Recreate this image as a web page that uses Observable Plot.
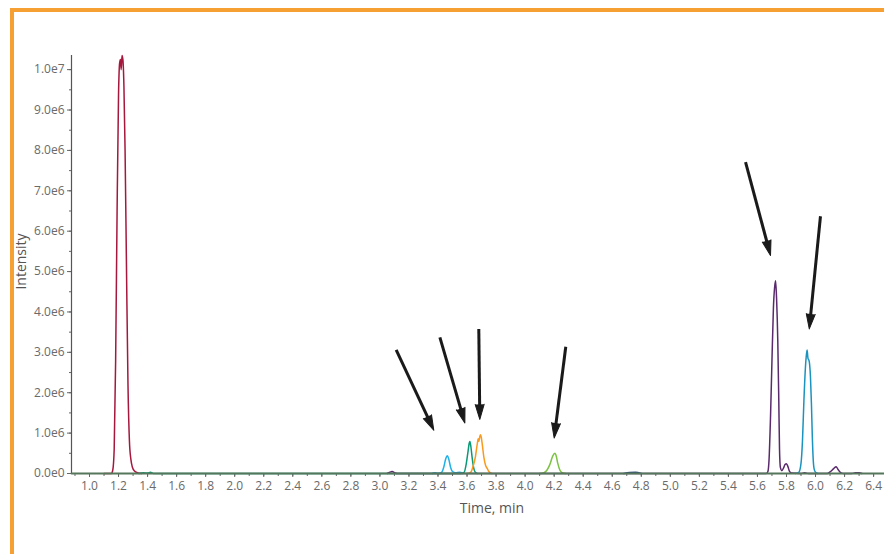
<!DOCTYPE html>
<html><head><meta charset="utf-8">
<script src="https://cdn.jsdelivr.net/npm/d3@7"></script>
<script src="https://cdn.jsdelivr.net/npm/@observablehq/plot@0.6"></script>
<style>
html,body{margin:0;padding:0;background:#fff;}
#wrap{position:relative;width:884px;height:554px;overflow:hidden;}
#frame{position:absolute;left:10px;top:8px;right:-10px;bottom:-10px;border-top:4px solid #f6a033;border-left:4px solid #f6a033;pointer-events:none;}
</style></head><body><div id="wrap"><div id="chart"></div><div id="frame"></div></div>
<script>
// ---- data (time in min, intensity in units of 1e6) ----
const seriesNames = ["Peak A", "Peak B", "Peak C", "Peak D", "Peak E", "Peak F", "Peak G", "Peak H"];
const seriesColors = ["#a6173d", "#1eb0e6", "#0b9a77", "#f99a1c", "#7cc243", "#5a2a6d", "#1a93bf", "#2f4a7a"];

const peakA = [[1.10,0],[1.15,0],[1.16,0.08],[1.17,0.6],[1.18,2.8],[1.19,6.5],[1.20,9.4],[1.207,10.15],[1.213,10.25],[1.218,10.0],[1.224,10.35],[1.23,10.25],[1.237,9.6],[1.245,8.0],[1.255,5.0],[1.265,2.2],[1.275,0.8],[1.285,0.35],[1.295,0.16],[1.31,0.06],[1.33,0.02],[1.36,0]];
const peakB = [[3.36,0],[3.38,0.02],[3.40,0],[3.425,0.03],[3.44,0.16],[3.453,0.36],[3.464,0.44],[3.474,0.36],[3.487,0.15],[3.50,0.05],[3.52,0.02],[3.55,0.03],[3.57,0]];
const peakC = [[1.34,0],[1.37,0.02],[1.40,0.01],[1.42,0.03],[1.44,0],[3.56,0],[3.58,0.03],[3.595,0.25],[3.607,0.55],[3.615,0.75],[3.62,0.79],[3.627,0.65],[3.635,0.4],[3.645,0.15],[3.655,0.04],[3.67,0]];
const peakD = [[3.60,0],[3.625,0.03],[3.64,0.16],[3.658,0.42],[3.67,0.72],[3.677,0.86],[3.682,0.8],[3.688,0.92],[3.693,0.96],[3.698,0.9],[3.705,0.72],[3.716,0.4],[3.728,0.2],[3.74,0.12],[3.75,0.05],[3.77,0]];
const peakE = [[4.10,0],[4.13,0.02],[4.15,0.08],[4.17,0.22],[4.19,0.43],[4.205,0.5],[4.215,0.42],[4.225,0.25],[4.24,0.08],[4.255,0.02],[4.28,0]];
const peakF = [[3.05,0],[3.075,0.04],[3.085,0.05],[3.10,0.02],[3.12,0],[5.66,0],[5.672,0.05],[5.68,0.35],[5.69,1.4],[5.70,2.8],[5.71,4.1],[5.718,4.6],[5.725,4.77],[5.732,4.3],[5.74,3.3],[5.747,1.8],[5.752,0.6],[5.758,0.15],[5.768,0.07],[5.78,0.14],[5.79,0.22],[5.80,0.24],[5.81,0.17],[5.82,0.06],[5.835,0.01],[5.90,0],[5.925,0.02],[5.95,0],[6.08,0],[6.10,0.04],[6.125,0.12],[6.142,0.17],[6.155,0.1],[6.17,0.03],[6.19,0],[6.25,0],[6.275,0.02],[6.30,0.02],[6.32,0]];
const peakG = [[5.86,0],[5.885,0.03],[5.90,0.25],[5.91,0.8],[5.92,1.8],[5.93,2.6],[5.936,2.9],[5.942,3.06],[5.948,2.85],[5.955,2.8],[5.965,2.4],[5.972,1.7],[5.978,0.9],[5.984,0.35],[5.99,0.12],[6.0,0.03],[6.015,0]];
const peakH = [[4.68,0],[4.72,0.025],[4.76,0.03],[4.80,0]];
const seriesPoints = [peakA, peakB, peakC, peakD, peakE, peakF, peakG, peakH];

const baseline = [[0.876,0],[6.475,0]];

// tick labels
const xTicks = [1.0,1.2,1.4,1.6,1.8,2.0,2.2,2.4,2.6,2.8,3.0,3.2,3.4,3.6,3.8,4.0,4.2,4.4,4.6,4.8,5.0,5.2,5.4,5.6,5.8,6.0,6.2,6.4];
const yTicks = [0,1,2,3,4,5,6,7,8,9,10];

// arrow annotations (start -> tip), in data units
const arrowX1 = [3.112, 3.413, 3.681, 4.280, 5.518, 6.034];
const arrowY1 = [3.06, 3.37, 3.58, 3.14, 7.71, 6.37];
const arrowX2 = [3.371, 3.585, 3.688, 4.200, 5.690, 5.957];
const arrowY2 = [1.07, 1.25, 1.34, 0.88, 5.40, 3.58];

// ---- layout ----
const W = 884, H = 554, mL = 71, mR = 0, mT = 55, mB = 81;
const xDomain = [0.876, 6.475], yDomain = [0, 10.35];
const xs = d3.scaleLinear(xDomain, [mL, W - mR]);
const ys = d3.scaleLinear(yDomain, [H - mB, mT]);

const rows = [];
seriesPoints.forEach((pts, i) => pts.forEach(([t, v]) => rows.push({series: seriesNames[i], t, v})));
const baseRows = baseline.map(([t, v]) => ({t, v}));
const arrows = arrowX1.map((_, i) => {
  const dx = xs(arrowX2[i]) - xs(arrowX1[i]);
  const dy = ys(arrowY2[i]) - ys(arrowY1[i]);
  return {x1: arrowX1[i], y1: arrowY1[i], x2: arrowX2[i], y2: arrowY2[i], angle: Math.atan2(dx, -dy) * 180 / Math.PI};
});
const xMinor = d3.range(9, 65).map(i => i / 10);
const yMinor = d3.range(0, 21).map(i => i / 2);
const fmt = d => (d * 1e6).toExponential(1).replace("e+", "e");

const plot = Plot.plot({
  width: W, height: H, marginLeft: mL, marginRight: mR, marginTop: mT, marginBottom: mB,
  style: {fontFamily: "'Open Sans', sans-serif", fontSize: "12px", color: "#666", background: "transparent", overflow: "visible"},
  x: {domain: xDomain},
  y: {domain: yDomain},
  color: {type: "ordinal", domain: seriesNames, range: seriesColors},
  marks: [
    Plot.axisY({ticks: yMinor, tickSize: 2, tickFormat: () => "", label: null, stroke: "#666"}),
    Plot.axisY({ticks: yTicks, tickSize: 4, tickPadding: 3, tickFormat: fmt, label: null, stroke: "#666", fill: "#6a6a6a"}),
    Plot.axisX({ticks: xMinor, tickSize: 3, tickFormat: () => "", label: null, stroke: "#666"}),
    Plot.axisX({ticks: xTicks, tickSize: 4, tickPadding: 4, tickFormat: d => d.toFixed(1), label: null, stroke: "#666", fill: "#6a6a6a"}),
    Plot.ruleX([xDomain[0]], {stroke: "#555", strokeWidth: 1.2}),
    Plot.line(rows, {x: "t", y: "v", z: "series", stroke: "series", curve: "monotone-x", strokeWidth: 1.5}),
    Plot.line(baseRows, {x: "t", y: "v", stroke: "#55775b", strokeWidth: 2}),
    Plot.arrow(arrows, {x1: "x1", y1: "y1", x2: "x2", y2: "y2", insetEnd: 10, headLength: 0, stroke: "#1a1a1a", strokeWidth: 3, strokeLinecap: "butt"}),
    Plot.vector(arrows, {x: "x2", y: "y2", rotate: "angle", length: 15, r: 4.5, shape: "spike", anchor: "end", fill: "#1a1a1a", stroke: "#1a1a1a", strokeWidth: 1}),
    Plot.text(["Time, min"], {text: d => d, frameAnchor: "bottom", textAnchor: "middle", lineAnchor: "middle", dx: 14, dy: 35, fontSize: 14, fill: "#555"}),
    Plot.text(["Intensity"], {text: d => d, frameAnchor: "left", textAnchor: "middle", lineAnchor: "middle", rotate: -90, dx: -50, dy: -3, fontSize: 14, fill: "#555"})
  ]
});
document.getElementById("chart").append(plot);
</script></body></html>
